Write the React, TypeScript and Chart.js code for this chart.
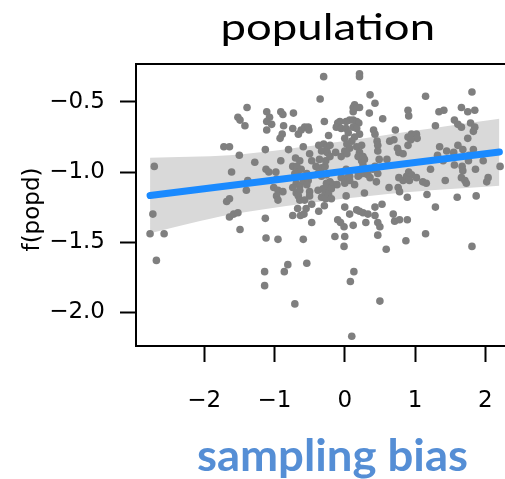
import React, { useEffect, useRef } from 'react';
import { Chart, registerables } from 'chart.js';

Chart.register(...registerables);

const titleText = 'population';
const xAxisTitle = 'sampling bias';
const yAxisTitle = 'f(popd)';

const xTickValues = [-2, -1, 0, 1, 2];
const yTickValues = [-2.0, -1.5, -1.0, -0.5];

// scatter points: x = sampling bias, y = f(popd)
const samplingBias = [
  -2.71, -2.73, -2.77, -2.57, -2.68,
  -1.72, -1.64, -1.68, -1.64, -1.64, -1.58, -1.52, -1.61,
  -1.39, -1.52, -1.49, -1.42, -1.50, -1.28, -1.38, -1.40, -1.49,
  -1.11, -1.07, -1.11, -1.04, -0.91, -0.88, -0.73, -0.87, -1.11, -0.89, -0.92, -0.74, -0.66, -0.62, -0.57, -0.52, -0.51,
  -1.13, -0.80, -0.91, -0.70, -0.64, -1.12, -1.08, -0.98, -0.74, -0.68, -0.62, -0.67, -0.71,
  -0.97, -1.01, -0.95, -0.88, -0.97, -0.95, -0.69, -0.64, -0.74, -0.69, -0.64, -0.66, -0.64,
  -0.74, -0.63, -0.67, -0.55, -0.58, -1.13, -1.12, -0.95, -0.81, -0.86, -1.14, -1.14, -0.71,
  -0.59, -0.52, -0.54, -0.50, -0.50, -0.57, -0.47, -0.47, -0.37, -0.29, -0.59, -0.54,
  -0.35, -0.30, -0.59, -0.50, -0.47, -0.41, -0.54, -0.38, -0.33, -0.28, -0.26, -0.33, -0.21, -0.26, -0.17, -0.11,
  -0.38, -0.31, -0.26, -0.19, -0.28, -0.23, -0.33, -0.27, -0.19,
  -0.29, -0.23, -0.37, -0.30, -0.25, -0.21, -0.33, -0.25, -0.36, -0.27, -0.21, -0.13,
  -0.07, -0.10, -0.12, -0.05, -0.14, -0.10, -0.06, -0.01,
  0.00, -0.01, 0.00, 0.07, 0.12, 0.17, 0.21, 0.26, 0.33, 0.30, 0.43, 0.53, 0.43, 0.47, 0.50, 0.47, 0.59, 0.13, 0.08, 0.50, 0.10,
  0.02, 0.28, 0.14, 0.00, 0.04, 0.07, -0.05, 0.00, 0.07, 0.02,
  0.19, 0.21, 0.28, 0.33, 0.36, 0.40, 0.43, 0.19, 0.26, 0.24, 0.28, 0.47, 0.45, 0.49,
  0.14, 0.12, 0.17, 0.21, 0.12, 0.21, 0.21, 0.36, 0.43, 0.35, 0.54,
  0.02, 0.07, 0.12, 0.17, 0.20, 0.02, 0.05, 0.12, 0.17, 0.21, 0.14, 0.10, 0.00, 0.41, 0.43,
  0.03, 0.07, 0.00, -0.05, 0.03, 0.17, 0.24, 0.21, 0.19, 0.26, 0.46, 0.47, 0.47,
  0.64, 0.70, 0.75, 0.77, 0.83, 0.60, 0.72, 0.90, 0.91, 0.90, 0.95, 1.02, 1.03, 0.90, 0.94,
  0.77, 0.83, 0.88, 0.91, 0.95, 0.92, 1.02, 0.63, 0.76, 0.78, 0.89, 0.69, 0.71, 0.78, 0.89, 0.87, 1.15, 1.29, 1.81,
  1.15, 1.81, 1.34, 1.41, 1.66, 1.75, 1.85, 1.56, 1.61, 1.66, 1.79, 1.85, 1.83, 1.29, 1.75, 1.61, 1.35, 1.55, 1.56, 1.32,
  1.45, 1.68, 1.83, 1.77, 1.76, 1.97, 2.21, 1.40, 1.56, 1.67, 1.68, 1.86, 1.22, 2.04, 2.02, 1.43, 1.66, 1.71, 1.73, 1.11,
  1.16, 1.17, 1.60, 1.87,
];

const fPopd = [
  -0.96, -1.30, -1.44, -1.44, -1.63,
  -0.82, -0.82, -1.21, -1.19, -1.32, -1.30, -1.29, -1.00,
  -0.54, -0.61, -0.63, -0.67, -0.88, -0.93, -1.06, -1.13, -1.41,
  -0.57, -0.61, -0.64, -0.66, -0.57, -0.59, -0.58, -0.67, -0.70, -0.73, -0.76, -0.69, -0.73, -0.70, -0.68, -0.68, -0.70,
  -0.84, -0.84, -0.92, -0.90, -0.92, -0.98, -1.00, -1.00, -0.96, -0.96, -0.98, -1.00, -1.01,
  -1.05, -1.11, -1.13, -1.14, -1.17, -1.20, -1.08, -1.10, -1.11, -1.15, -1.13, -1.17, -1.20,
  -1.31, -1.31, -1.26, -1.26, -1.30, -1.33, -1.47, -1.48, -1.66, -1.71, -1.71, -1.81, -1.94,
  -1.06, -1.06, -1.09, -1.14, -1.17, -1.20, -1.23, -1.36, -1.28, -1.24, -1.48, -1.65,
  -0.48, -0.32, -0.82, -0.87, -0.92, -0.96, -1.01, -1.01, -0.97, -0.96, -1.02, -1.03, -1.07, -1.08, -1.09, -1.09,
  -1.13, -1.12, -1.11, -1.12, -1.15, -1.16, -1.18, -1.19, -1.19,
  -0.64, -0.74, -0.81, -0.80, -0.82, -0.81, -0.85, -0.86, -0.91, -0.92, -0.89, -0.86,
  -0.64, -0.65, -0.68, -0.69, -1.46, -1.34, -1.36, -1.39,
  -1.46, -1.53, -1.25, -1.30, -1.38, -1.27, -1.28, -1.29, -1.30, -1.36, -1.25, -1.23, -1.31, -1.36, -1.39, -1.45, -1.55, -1.71, -1.78, -1.92, -2.17,
  -1.17, -1.15, -1.09, -1.06, -1.04, -1.03, -1.04, -1.08, -1.06, -0.98,
  -1.03, -1.02, -1.01, -1.02, -1.04, -0.98, -0.96, -1.00, -0.95, -0.92, -0.91, -1.01, -1.07, -0.91,
  -0.52, -0.54, -0.54, -0.54, -0.57, -0.30, -0.32, -0.45, -0.51, -0.58, -0.62,
  -0.64, -0.63, -0.63, -0.64, -0.65, -0.69, -0.72, -0.68, -0.69, -0.73, -0.75, -0.78, -0.76, -0.70, -0.73,
  -0.80, -0.83, -0.85, -0.89, -0.87, -0.82, -0.81, -0.86, -0.89, -0.89, -0.78, -0.81, -0.85,
  -0.78, -0.77, -0.83, -0.86, -0.87, -0.91, -0.70, -0.56, -0.60, -0.75, -0.73, -0.73, -0.76, -0.81, -0.77,
  -1.04, -1.06, -1.03, -1.00, -1.02, -1.06, -1.04, -1.11, -1.11, -1.14, -1.18, -1.30, -1.35, -1.34, -1.34, -1.49, -1.44, -1.25, -1.53,
  -0.46, -0.43, -0.57, -0.56, -0.54, -0.57, -0.56, -0.63, -0.66, -0.68, -0.65, -0.68, -0.71, -0.67, -0.76, -0.81, -0.82, -0.86, -0.89, -0.88,
  -0.85, -0.84, -0.84, -0.88, -0.92, -0.92, -0.96, -0.92, -0.95, -0.96, -0.99, -0.98, -0.98, -1.04, -1.07, -1.06, -1.04, -1.06, -1.08, -1.07,
  -1.08, -1.16, -1.18, -1.17,
];

// fitted line and its confidence band
const fitX = [-2.77, 2.2];
const fitY = [-1.167, -0.857];
const bandX = [-2.77, -1.64, -0.36, 0.92, 2.2];
const bandUpper = [-0.898, -0.881, -0.805, -0.712, -0.621];
const bandLower = [-1.436, -1.305, -1.212, -1.143, -1.098];

const fmtNum = (v: number, d: number) => (v < 0 ? '\u2212' : '') + Math.abs(v).toFixed(d);

function drawFitted(ctx: CanvasRenderingContext2D, text: string, font: string, color: string, cx: number, baseline: number, targetW: number) {
  ctx.save();
  ctx.font = font;
  ctx.fillStyle = color;
  ctx.textAlign = 'left';
  ctx.textBaseline = 'alphabetic';
  const m = ctx.measureText(text);
  const inkW = m.actualBoundingBoxLeft + m.actualBoundingBoxRight;
  const s = inkW > 0 ? targetW / inkW : 1;
  ctx.translate(cx - targetW / 2, baseline);
  ctx.scale(s, 1);
  ctx.fillText(text, m.actualBoundingBoxLeft, 0);
  ctx.restore();
}

const decorPlugin = {
  id: 'decor',
  afterDraw(chart: any) {
    const { ctx, chartArea } = chart;
    ctx.save();
    ctx.strokeStyle = '#000';
    ctx.lineWidth = 2;
    ctx.beginPath();
    ctx.moveTo(chartArea.left - 1, chartArea.top);
    ctx.lineTo(chartArea.right, chartArea.top);
    ctx.stroke();
    ctx.restore();

    drawFitted(ctx, titleText, '400 37px Lato', '#000', 328, 40, 210);
    drawFitted(ctx, xAxisTitle, '700 43px Lato', '#558ed5', 332.5, 470.5, 269);

    ctx.save();
    ctx.translate(38.5, 209.5);
    ctx.rotate(-Math.PI / 2);
    ctx.font = '23px "DejaVu Sans"';
    ctx.fillStyle = '#000';
    ctx.textAlign = 'center';
    ctx.textBaseline = 'alphabetic';
    ctx.fillText(yAxisTitle, 0, 0);
    ctx.restore();
  },
};

export default function App() {
  const ref = useRef<HTMLCanvasElement>(null);

  useEffect(() => {
    if (!ref.current) return;
    const points = samplingBias.map((x, i) => ({ x, y: fPopd[i] }));
    const chart = new Chart(ref.current, {
      type: 'scatter',
      data: {
        datasets: [
          {
            type: 'line',
            label: 'band lower',
            data: bandX.map((x, i) => ({ x, y: bandLower[i] })),
            borderWidth: 0,
            borderColor: 'rgba(0,0,0,0)',
            pointRadius: 0,
            fill: false,
            tension: 0.3,
            order: 3,
          },
          {
            type: 'line',
            label: 'band upper',
            data: bandX.map((x, i) => ({ x, y: bandUpper[i] })),
            borderWidth: 0,
            borderColor: 'rgba(0,0,0,0)',
            backgroundColor: '#d9d9d9',
            pointRadius: 0,
            fill: '-1',
            tension: 0.3,
            order: 3,
          },
          {
            type: 'scatter',
            label: 'points',
            data: points,
            pointRadius: 3.8,
            backgroundColor: '#7f7f7f',
            borderWidth: 0,
            order: 2,
          },
          {
            type: 'line',
            label: 'fit',
            data: fitX.map((x, i) => ({ x, y: fitY[i] })),
            borderColor: '#1a8aff',
            borderWidth: 7,
            borderCapStyle: 'round',
            pointRadius: 0,
            fill: false,
            order: 1,
          },
        ] as any,
      },
      options: {
        responsive: false,
        animation: false,
        devicePixelRatio: 1,
        events: [],
        layout: { autoPadding: false, padding: { top: 64, left: 0, right: 0, bottom: 0 } },
        plugins: {
          legend: { display: false },
          tooltip: { enabled: false },
          title: { display: false },
        },
        scales: {
          x: {
            type: 'linear',
            min: -2.97,
            max: 2.28,
            afterBuildTicks: (s: any) => {
              s.ticks = xTickValues.map((value) => ({ value }));
            },
            afterFit: (s: any) => {
              s.height = 133;
              s.paddingLeft = 0;
              s.paddingRight = 0;
            },
            grid: { drawOnChartArea: false, drawTicks: true, tickLength: 16, tickWidth: 2, tickColor: '#000' },
            border: { display: true, color: '#000', width: 2 },
            ticks: {
              autoSkip: false,
              maxRotation: 0,
              padding: 25,
              color: '#000',
              font: { family: 'DejaVu Sans', size: 23 },
              callback: (v: any) => fmtNum(Number(v), 0),
            },
          },
          y: {
            type: 'linear',
            min: -2.24,
            max: -0.23,
            afterBuildTicks: (s: any) => {
              s.ticks = yTickValues.map((value) => ({ value }));
            },
            afterFit: (s: any) => {
              s.width = 136;
              s.paddingTop = 0;
              s.paddingBottom = 0;
            },
            grid: { drawOnChartArea: false, drawTicks: true, tickLength: 16, tickWidth: 2, tickColor: '#000' },
            border: { display: true, color: '#000', width: 2 },
            ticks: {
              autoSkip: false,
              padding: 15,
              color: '#000',
              font: { family: 'DejaVu Sans', size: 23 },
              callback: (v: any) => fmtNum(Number(v), 1),
            },
          },
        },
      } as any,
      plugins: [decorPlugin],
    });

    const fonts: any = (document as any).fonts;
    if (fonts && fonts.load) {
      Promise.all([
        fonts.load('400 37px Lato'),
        fonts.load('700 43px Lato'),
        fonts.load('23px "DejaVu Sans"'),
      ]).then(() => chart.update()).catch(() => {});
    }

    return () => chart.destroy();
  }, []);

  return (
    <div style={{ position: 'fixed', left: 0, top: 0, width: 505, height: 479, background: '#fff', overflow: 'hidden' }}>
      <canvas ref={ref} width={505} height={479} style={{ display: 'block' }} />
    </div>
  );
}
